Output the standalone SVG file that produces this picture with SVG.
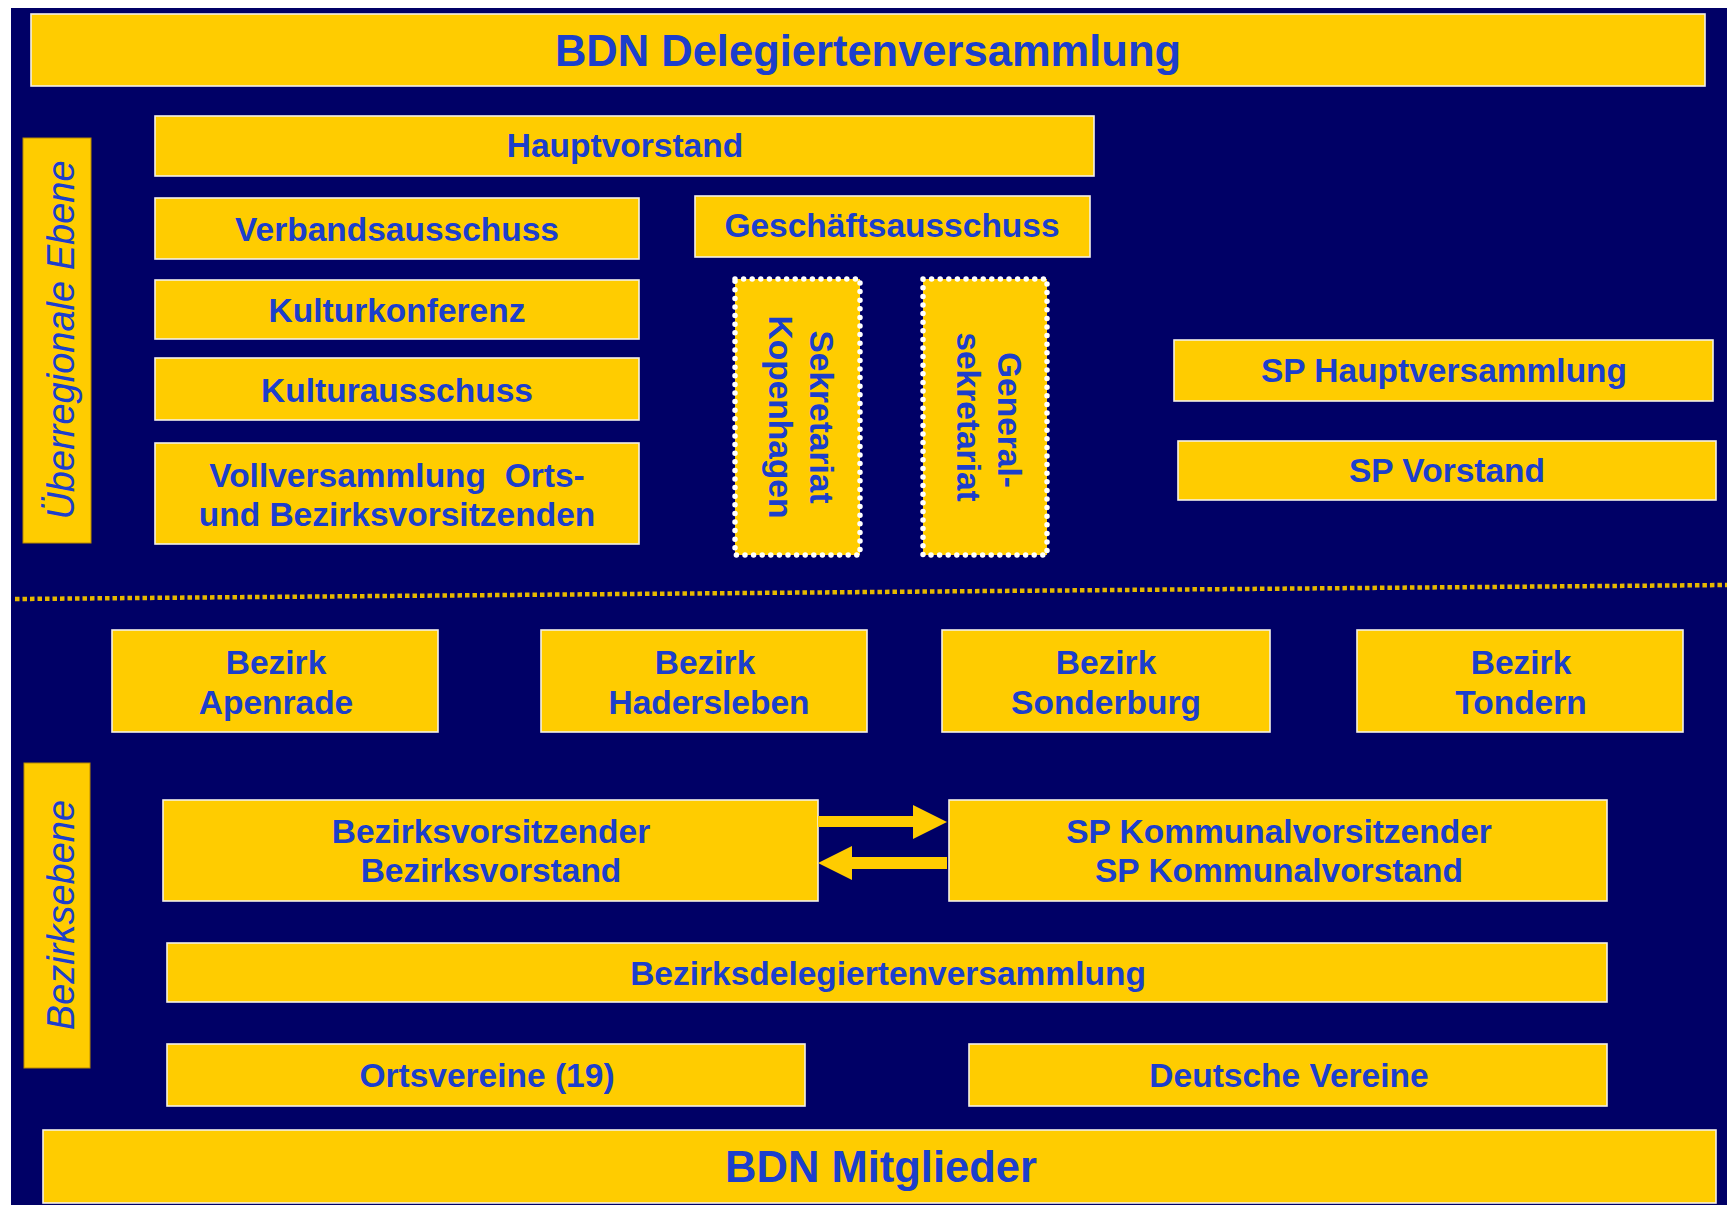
<svg xmlns="http://www.w3.org/2000/svg" width="1727" height="1205" viewBox="0 0 1727 1205">
<style>
.box{fill:#FFCC00;stroke:#F4F0E6;stroke-width:1.6}
.lbl{fill:#FFCC00;stroke:#B88A00;stroke-width:1}
.dot{fill:#FFCC00;stroke:#FFFFFF;stroke-width:5.5;stroke-linecap:round;stroke-dasharray:0 8.6}
.t{font-family:"Liberation Sans",Arial,sans-serif;font-weight:bold;font-size:33.5px;fill:#1C3FCC;text-anchor:middle}
.big{font-size:43.5px}
.it{font-family:"Liberation Sans",Arial,sans-serif;font-style:italic;font-size:38px;fill:#1C3FCC;text-anchor:middle}
.arr{fill:#FFCC00}
</style>
<rect x="0" y="0" width="1727" height="1205" fill="#FFFFFF"/>
<rect x="11" y="8" width="1716" height="1197" fill="#000066"/>

<g id="top"><rect class="box" x="31" y="14" width="1674" height="72"/><text class="t big" x="868" y="66">BDN Delegiertenversammlung</text></g>
<g id="label-ueber"><rect class="lbl" x="23" y="138" width="68" height="405"/><text class="it" transform="translate(74,340) rotate(-90)">Überregionale Ebene</text></g>
<g id="hauptvorstand"><rect class="box" x="155" y="116" width="939" height="60"/><text class="t" x="625" y="157">Hauptvorstand</text></g>
<g id="verbandsausschuss"><rect class="box" x="155" y="198" width="484" height="61"/><text class="t" x="397" y="241">Verbandsausschuss</text></g>
<g id="geschaeftsausschuss"><rect class="box" x="695" y="196" width="395" height="61"/><text class="t" x="892" y="237">Geschäftsausschuss</text></g>
<g id="kulturkonferenz"><rect class="box" x="155" y="280" width="484" height="59"/><text class="t" x="397" y="322">Kulturkonferenz</text></g>
<g id="kulturausschuss"><rect class="box" x="155" y="358" width="484" height="62"/><text class="t" x="397" y="402">Kulturausschuss</text></g>
<g id="vollversammlung"><rect class="box" x="155" y="443" width="484" height="101"/><text class="t" x="397" y="487" xml:space="preserve">Vollversammlung  Orts-</text><text class="t" x="397" y="526">und Bezirksvorsitzenden</text></g>
<g id="sekretariat-kopenhagen"><rect class="dot" x="735" y="279" width="125" height="276"/><text class="t" transform="translate(810,417) rotate(90)">Sekretariat</text><text class="t" transform="translate(769,417) rotate(90)">Kopenhagen</text></g>
<g id="generalsekretariat"><rect class="dot" x="923" y="279" width="124" height="276"/><text class="t" transform="translate(998,420) rotate(90)">General-</text><text class="t" transform="translate(957,417) rotate(90)">sekretariat</text></g>
<g id="sp-hauptversammlung"><rect class="box" x="1174" y="340" width="539" height="61"/><text class="t" x="1444" y="382">SP Hauptversammlung</text></g>
<g id="sp-vorstand"><rect class="box" x="1178" y="441" width="538" height="59"/><text class="t" x="1447" y="482">SP Vorstand</text></g>

<g id="divider"><line x1="15" y1="599" x2="1727" y2="585" stroke="#E6B800" stroke-width="4.5" stroke-dasharray="4.5 3"/></g>

<g id="bezirk-apenrade"><rect class="box" x="112" y="630" width="326" height="102"/><text class="t" x="276" y="674">Bezirk</text><text class="t" x="276" y="714">Apenrade</text></g>
<g id="bezirk-hadersleben"><rect class="box" x="541" y="630" width="326" height="102"/><text class="t" x="705" y="674">Bezirk</text><text class="t" x="709" y="714">Hadersleben</text></g>
<g id="bezirk-sonderburg"><rect class="box" x="942" y="630" width="328" height="102"/><text class="t" x="1106" y="674">Bezirk</text><text class="t" x="1106" y="714">Sonderburg</text></g>
<g id="bezirk-tondern"><rect class="box" x="1357" y="630" width="326" height="102"/><text class="t" x="1521" y="674">Bezirk</text><text class="t" x="1521" y="714">Tondern</text></g>

<g id="label-bezirk"><rect class="lbl" x="24" y="763" width="66" height="305"/><text class="it" transform="translate(74,915) rotate(-90)">Bezirksebene</text></g>
<g id="bezirksvorsitzender"><rect class="box" x="163" y="800" width="655" height="101"/><text class="t" x="491" y="843">Bezirksvorsitzender</text><text class="t" x="491" y="882">Bezirksvorstand</text></g>
<g id="sp-kommunal"><rect class="box" x="949" y="800" width="658" height="101"/><text class="t" x="1279" y="843">SP Kommunalvorsitzender</text><text class="t" x="1279" y="882">SP Kommunalvorstand</text></g>
<g id="bezirksdelegierten"><rect class="box" x="167" y="943" width="1440" height="59"/><text class="t" x="888" y="985">Bezirksdelegiertenversammlung</text></g>
<g id="ortsvereine"><rect class="box" x="167" y="1044" width="638" height="62"/><text class="t" x="487" y="1087">Ortsvereine (19)</text></g>
<g id="deutsche-vereine"><rect class="box" x="969" y="1044" width="638" height="62"/><text class="t" x="1289" y="1087">Deutsche Vereine</text></g>
<g id="mitglieder"><rect class="box" x="43" y="1130" width="1673" height="73"/><text class="t big" x="881" y="1182">BDN Mitglieder</text></g>

<g id="connectors">
<polygon class="arr" points="818,816 913,816 913,805 947,822 913,839 913,827 818,827"/>
<polygon class="arr" points="947,857 852,857 852,846 818,863 852,880 852,869 947,869"/>
</g>
</svg>
